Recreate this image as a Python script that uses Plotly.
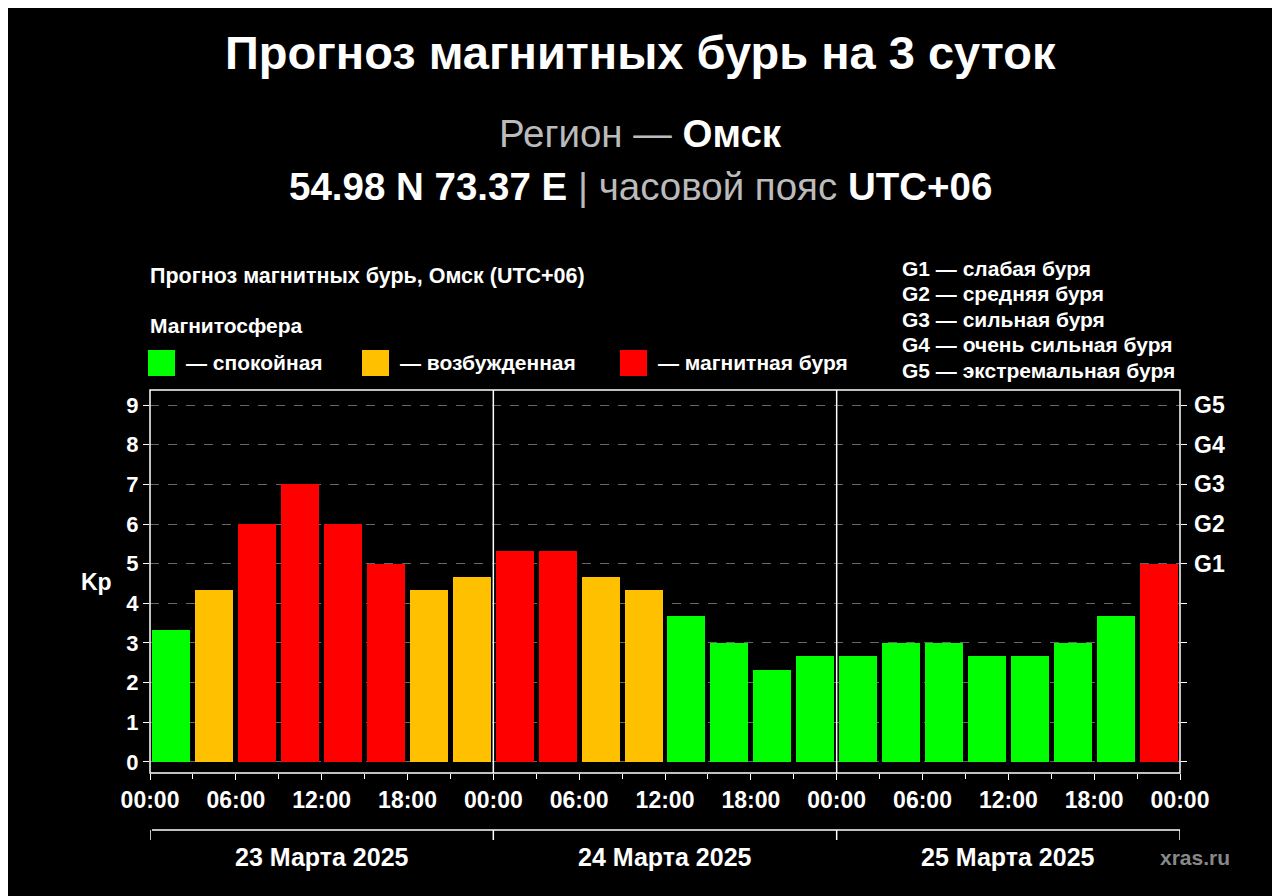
import plotly.graph_objects as go

kp = [3.33, 4.33, 6, 7, 6, 5, 4.33, 4.67,
      5.33, 5.33, 4.67, 4.33, 3.67, 3, 2.33, 2.67,
      2.67, 3, 3, 2.67, 2.67, 3, 3.67, 5]
hours = [1.5 + 3 * i for i in range(24)]
tick_hours = list(range(0, 73, 6))
tick_labels = ["00:00", "06:00", "12:00", "18:00"] * 3 + ["00:00"]
days = ["23 Марта 2025", "24 Марта 2025", "25 Марта 2025"]
g_levels = [5, 6, 7, 8, 9]
g_labels = ["G1", "G2", "G3", "G4", "G5"]
legend_items = ["— спокойная", "— возбужденная", "— магнитная буря"]
legend_colors = ["#00ff00", "#ffc000", "#ff0000"]
g_desc = ["G1 — слабая буря", "G2 — средняя буря", "G3 — сильная буря",
          "G4 — очень сильная буря", "G5 — экстремальная буря"]

def col(v):
    if v < 4: return legend_colors[0]
    if v < 5: return legend_colors[1]
    return legend_colors[2]

OFF = 8  # page body margin
W, H = 1280 - OFF, 896 - OFF
L, R, T, B = 150, 1180, 390, 773  # reference pixel coords
def px(x): return (x - L) / (R - L)
def py(y): return (B - y) / (B - T)

FONT = "Liberation Sans, Arial, sans-serif"
fig = go.Figure(go.Bar(x=hours, y=kp, width=2.66, marker=dict(color=[col(v) for v in kp], line=dict(width=0)), showlegend=False))

ann = []
shapes = []
def text(x, y, t, size, color="white", anchor="left", bold=True):
    ann.append(dict(x=px(x), y=py(y), xref="paper", yref="paper", text=(f"<b>{t}</b>" if bold else t),
                    showarrow=False, xanchor=anchor, yanchor="middle",
                    font=dict(size=size, color=color, family=FONT)))

text(640, 52, "Прогноз магнитных бурь на 3 суток", 47, anchor="center")
ann.append(dict(x=px(640), y=py(133), xref="paper", yref="paper", showarrow=False, xanchor="center", yanchor="middle",
                text="<span style='color:#bbbbbb'>Регион — </span><b>Омск</b>", font=dict(size=38.5, color="white", family=FONT)))
ann.append(dict(x=px(640), y=py(187), xref="paper", yref="paper", showarrow=False, xanchor="center", yanchor="middle",
                text="<b>54.98 N 73.37 E</b><span style='color:#bbbbbb'> | часовой пояс </span><b>UTC+06</b>",
                font=dict(size=38.5, color="white", family=FONT)))
text(148, 276, "Прогноз магнитных бурь, Омск (UTC+06)", 21.5)
text(148, 325, "Магнитосфера", 21)
for i, (lx, t) in enumerate(zip([148, 362, 620], legend_items)):
    shapes.append(dict(type="rect", xref="paper", yref="paper", x0=px(lx), x1=px(lx + 27),
                       y0=py(376), y1=py(350), fillcolor=legend_colors[i], line=dict(width=0)))
    text(lx + 36, 362, t, 21)
for i, t in enumerate(g_desc):
    text(900, 268 + 25.5 * i, t, 21)
for g, t in zip(g_levels, g_labels):
    ann.append(dict(x=1, y=g, xref="paper", yref="y", text=f"<b>{t}</b>", showarrow=False, xanchor="left",
                    xshift=12, font=dict(size=23, color="white", family=FONT)))
text(96, 582, "Kp", 23, anchor="center")
text(1158, 857, "xras.ru", 21, color="#888888")

shapes.append(dict(type="line", xref="paper", yref="paper", x0=px(152), x1=px(1180), y0=py(830), y1=py(830), line=dict(color="white", width=1.5)))
for d in range(4):
    shapes.append(dict(type="line", xref="x", yref="paper", x0=24 * d, x1=24 * d, y0=py(830), y1=py(840), line=dict(color="white", width=1.5)))
for d, t in enumerate(days):
    ann.append(dict(x=24 * d + 12, y=py(857), xref="x", yref="paper", text=f"<b>{t}</b>", showarrow=False,
                    xanchor="center", yanchor="middle", font=dict(size=25, color="white", family=FONT)))
for d in (24, 48):
    shapes.append(dict(type="line", xref="x", yref="paper", x0=d, x1=d, y0=0, y1=1, line=dict(color="white", width=1.5)))
shapes.append(dict(type="rect", xref="paper", yref="paper", x0=0, x1=1, y0=0, y1=1, line=dict(color="white", width=1.5), layer="above"))

fig.update_layout(
    width=W, height=H, paper_bgcolor="black", plot_bgcolor="black",
    margin=dict(l=L - OFF, r=1280 - R, t=T - OFF, b=896 - B), annotations=ann, shapes=shapes,
    font=dict(family=FONT, color="white"),
    xaxis=dict(range=[0, 72], tickvals=tick_hours, ticktext=[f"<b>{t}</b>" for t in tick_labels],
               tickfont=dict(size=23), ticks="outside", ticklen=6, tickcolor="white",
               showgrid=False, zeroline=False, minor=dict(dtick=3, tick0=0, ticks="outside", ticklen=5, tickcolor="white")),
    yaxis=dict(range=[-0.28, 9.38], tickvals=list(range(10)), ticktext=[f"<b>{i}</b>" for i in range(10)],
               tickfont=dict(size=22), ticks="outside", ticklen=6, tickcolor="white",
               showgrid=True, gridcolor="#666666", griddash="dash", gridwidth=1, zeroline=False),
    yaxis2=dict(overlaying="y", side="right", range=[-0.28, 9.38], tickvals=list(range(10)), showticklabels=False,
                ticks="outside", ticklen=6, tickcolor="white", showgrid=False, zeroline=False),
    bargap=0,
)
fig.add_trace(go.Scatter(x=[0], y=[0], yaxis="y2", mode="markers", marker=dict(opacity=0), showlegend=False, hoverinfo="skip"))
fig.write_html("out.html")
